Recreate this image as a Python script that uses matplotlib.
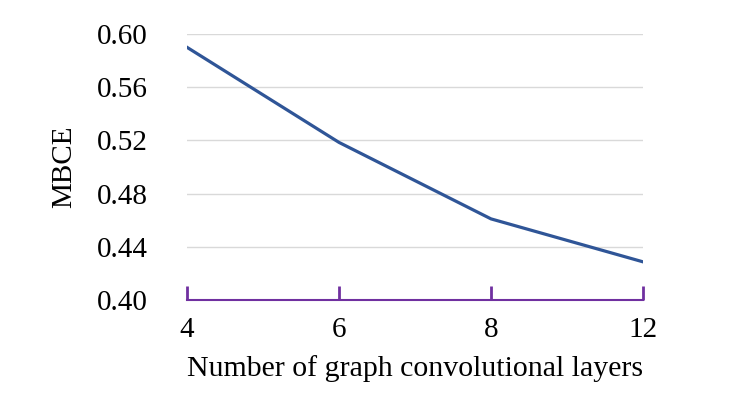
import matplotlib
matplotlib.use("Agg")
import matplotlib.pyplot as plt

layers = ["4", "6", "8", "12"]
mbce = [0.590, 0.5185, 0.461, 0.4287]
yticks = [0.40, 0.44, 0.48, 0.52, 0.56, 0.60]

plt.rcParams['font.family'] = ['Liberation Serif', 'DejaVu Serif']

fig = plt.figure(figsize=(7.47, 3.93), dpi=100)
ax = fig.add_axes([0.2503, 0.2366, 0.8608 - 0.2503, 0.9135 - 0.2366])

x = list(range(len(layers)))
ax.plot(x, mbce, color='#2F5597', linewidth=2.3, solid_joinstyle='miter', zorder=3)

ax.set_xlim(0, len(layers) - 1)
ax.set_ylim(0.40, 0.60)
ax.set_yticks(yticks)
ax.set_yticklabels([f"{v:.2f}" for v in yticks])
ax.set_xticks(x)
ax.set_xticklabels(layers)

for v in yticks[1:]:
    ax.axhline(v, color='#D9D9D9', linewidth=1.0, zorder=1)

for s in ['top', 'right', 'left']:
    ax.spines[s].set_visible(False)
ax.spines['bottom'].set_color('#7030A0')
ax.spines['bottom'].set_linewidth(1.5)
ax.spines['bottom'].set_zorder(2)

ax.tick_params(axis='x', direction='in', length=10, width=2, color='#7030A0',
               labelsize=21, pad=12)
ax.tick_params(axis='y', length=0, labelsize=21, pad=28.5)

ax.set_xlabel("Number of graph convolutional layers", fontsize=21.5, labelpad=9)
ax.set_ylabel("MBCE", fontsize=21, labelpad=14)

fig.savefig("out.png", dpi=100)
